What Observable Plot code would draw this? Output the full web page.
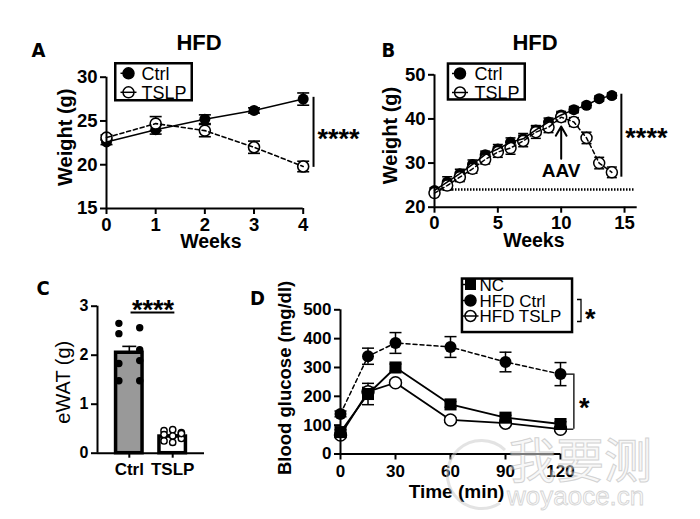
<!DOCTYPE html>
<html><head><meta charset="utf-8">
<script src="https://cdn.jsdelivr.net/npm/d3@7"></script>
<script src="https://cdn.jsdelivr.net/npm/@observablehq/plot@0.6"></script>
<style>
body{margin:0;background:#fff;}
#fig{position:relative;width:700px;height:519px;overflow:hidden;background:#fff;}
</style></head><body><div id="fig"></div>
<script>
// ---------- DATA ----------
// Panel A (HFD, weeks 0-4)
const weeksA = [0, 1, 2, 3, 4];
const ctrlA = [22.6, 24.0, 25.2, 26.2, 27.5];
const ctrlAerr = [0.3, 0.5, 0.5, 0.3, 0.7];
const tslpA = [23.1, 24.7, 23.9, 22.0, 19.8];
const tslpAerr = [0.3, 0.8, 0.7, 0.7, 0.6];
const yTicksA = [15, 20, 25, 30];

// Panel B (HFD, weeks 0-14)
const weeksB = [0, 1, 2, 3, 4, 5, 6, 7, 8, 9, 10, 11, 12, 13, 14];
const ctrlB = [23.8, 25.7, 27.6, 29.7, 31.9, 33.2, 34.7, 35.5, 37.5, 39.3, 40.9, 42.1, 43.1, 44.6, 45.3];
const ctrlBerr = [0.6, 1.2, 1.0, 1.0, 0.8, 1.0, 1.0, 1.2, 1.0, 0.9, 0.8, 0.7, 0.6, 0.6, 0.6];
const tslpB = [23.2, 24.9, 26.8, 28.7, 30.8, 32.5, 33.4, 35.0, 37.0, 38.1, 40.4, 39.3, 35.7, 30.0, 27.9];
const tslpBerr = [0.5, 1.0, 1.0, 1.0, 1.0, 1.2, 1.4, 1.3, 1.4, 1.2, 1.0, 1.0, 1.3, 1.3, 1.2];
const xTicksB = [0, 5, 10, 15];
const yTicksB = [20, 30, 40, 50];
const baselineB = [24];
const aavB = [{week: 10, from: 31, to: 38.3, label: "AAV", textAt: 28.3}];

// Panel C (eWAT)
const groupsC = ["Ctrl", "TSLP"];
const meanC = [2.05, 0.34];
const semC = [0.13, 0.03];
const ptsCtrlC = [2.65, 2.56, 2.44, 2.11, 1.83, 1.89, 1.48, 1.48];
const ptsTslpC = [0.46, 0.48, 0.42, 0.38, 0.35, 0.30, 0.25, 0.22, 0.40];
const yTicksC = [0, 1, 2, 3];

// Panel D (GTT)
const timeD = [0, 15, 30, 60, 90, 120];
const ncD = [76, 208, 300, 172, 126, 104];
const ncDerr = [8, 37, 12, 10, 8, 8];
const hfdCtrlD = [139, 339, 385, 371, 319, 277];
const hfdCtrlDerr = [10, 28, 36, 36, 34, 40];
const hfdTslpD = [66, 216, 247, 118, 107, 86];
const hfdTslpDerr = [6, 15, 10, 8, 6, 6];
const xTicksD = [0, 30, 60, 90, 120];
const yTicksD = [0, 100, 200, 300, 400, 500];

// ---------- HELPERS ----------
const FONT = '"Liberation Sans", Arial, Helvetica, sans-serif';
const NARROW = '"Liberation Sans Narrow", "DejaVu Sans Condensed", "Liberation Sans", sans-serif';
const fig = document.getElementById("fig");
function place(svg, left, top) {
  svg.style.position = "absolute";
  svg.style.left = left + "px";
  svg.style.top = top + "px";
  fig.appendChild(svg);
}
const cap = {draw(ctx, size) { const r = Math.sqrt(size / Math.PI); ctx.moveTo(-r, 0); ctx.lineTo(r, 0); }};
function rows(xs, ys, es) { return xs.map((x, i) => ({x, y: ys[i], e: es[i]})); }
function errMarks(data, capR, sw) {
  return [
    Plot.ruleX(data, {x: "x", y1: d => d.y - d.e, y2: d => d.y + d.e, stroke: "black", strokeWidth: sw}),
    Plot.dot(data, {x: "x", y: d => d.y + d.e, symbol: cap, r: capR, stroke: "black", fill: "none", strokeWidth: sw}),
    Plot.dot(data, {x: "x", y: d => d.y - d.e, symbol: cap, r: capR, stroke: "black", fill: "none", strokeWidth: sw})
  ];
}
const baseStyle = (fs) => ({fontFamily: FONT, fontSize: fs + "px", fontWeight: "bold", background: "transparent", overflow: "visible", color: "black"});
const xLabel = (t, dx, dy, fs) => Plot.text([t], {text: d => d, frameAnchor: "bottom", textAnchor: "middle", lineAnchor: "middle", dx, dy, fontSize: fs});
const yLabel = (t, dx, dy, fs, fw = "bold") => Plot.text([t], {text: d => d, frameAnchor: "left", rotate: -90, textAnchor: "middle", lineAnchor: "middle", dx, dy, fontSize: fs, fontWeight: fw});

// ---------- PANEL A ----------
const rAc = rows(weeksA, ctrlA, ctrlAerr), rAt = rows(weeksA, tslpA, tslpAerr);
const lastA = weeksA.length - 1;
const sigA = [{x: weeksA[lastA] + 0.21, y1: tslpA[lastA] - 0.1, y2: ctrlA[lastA] + 0.2, label: "****"}];
const plotA = Plot.plot({
  width: 350, height: 260, marginLeft: 106, marginRight: 47.3, marginTop: 76.7, marginBottom: 52,
  x: {domain: [weeksA[0], weeksA[lastA]]}, y: {domain: [yTicksA[0], yTicksA[yTicksA.length - 1]]},
  style: baseStyle(18.5),
  marks: [
    ...errMarks(rAc, 6, 1.6), ...errMarks(rAt, 6, 1.6),
    Plot.dot(rAc, {x: "x", y: "y", r: 5.5, fill: "black"}),
    Plot.dot(rAt, {x: "x", y: "y", r: 5.5, fill: "white", stroke: "black", strokeWidth: 1.6}),
    Plot.line(rAc, {x: "x", y: "y", strokeWidth: 1.6}),
    Plot.line(rAt, {x: "x", y: "y", strokeWidth: 1.6, strokeDasharray: "4,3"}),
    Plot.ruleX([weeksA[0]], {strokeWidth: 2}), Plot.ruleY([yTicksA[0]], {strokeWidth: 2}),
    Plot.axisX({ticks: weeksA, tickSize: 6, tickPadding: 3, strokeWidth: 2, label: null, tickFormat: d => String(d)}),
    Plot.axisY({ticks: yTicksA, tickSize: 6, tickPadding: 3, strokeWidth: 2, label: null, tickFormat: d => String(d)}),
    Plot.ruleX(sigA, {x: "x", y1: "y1", y2: "y2", strokeWidth: 2}),
    Plot.text(sigA, {x: "x", y: d => (d.y1 + d.y2) / 2, text: "label", textAnchor: "start", dx: 4, dy: 7, fontSize: 27}),
    xLabel("Weeks", 6, 33, 19.5),
    yLabel("Weight (g)", -41, -5.6, 20)
  ]
});
place(plotA, 0, 0);

// ---------- PANEL B ----------
const rBc = rows(weeksB, ctrlB, ctrlBerr), rBt = rows(weeksB, tslpB, tslpBerr);
const lastB = weeksB.length - 1;
const sigB = [{x: weeksB[lastB] + 0.75, y1: tslpB[lastB] - tslpBerr[lastB] + 0.1, y2: ctrlB[lastB] + 0.3, label: "****"}];
const plotB = Plot.plot({
  width: 350, height: 260, marginLeft: 84, marginRight: 63.3, marginTop: 74.3, marginBottom: 53.3,
  x: {domain: [0, 16]}, y: {domain: [yTicksB[0], yTicksB[yTicksB.length - 1]]},
  style: baseStyle(18.5),
  marks: [
    Plot.ruleY(baselineB, {x1: 0, x2: 15.8, strokeWidth: 2.5, strokeDasharray: "1.5,1.5"}),
    ...errMarks(rBc, 5, 1.5), ...errMarks(rBt, 5, 1.5),
    Plot.dot(rBc, {x: "x", y: "y", r: 5.5, fill: "black"}),
    Plot.dot(rBt, {x: "x", y: "y", r: 5.5, fill: "white", stroke: "black", strokeWidth: 1.5}),
    Plot.line(rBc, {x: "x", y: "y", strokeWidth: 1.5}),
    Plot.line(rBt, {x: "x", y: "y", strokeWidth: 1.5, strokeDasharray: "4,3"}),
    Plot.ruleX([0], {strokeWidth: 2}), Plot.ruleY([yTicksB[0]], {strokeWidth: 2}),
    Plot.axisX({ticks: xTicksB, tickSize: 6, tickPadding: 3, strokeWidth: 2, label: null, tickFormat: d => String(d)}),
    Plot.axisY({ticks: yTicksB, tickSize: 6, tickPadding: 3, strokeWidth: 2, label: null, tickFormat: d => String(d)}),
    Plot.arrow(aavB, {x1: "week", x2: "week", y1: "from", y2: "to", strokeWidth: 2, headLength: 9}),
    Plot.text(aavB, {x: "week", y: "textAt", text: "label", fontSize: 19}),
    Plot.ruleX(sigB, {x: "x", y1: "y1", y2: "y2", strokeWidth: 2}),
    Plot.text(sigB, {x: "x", y: d => (d.y1 + d.y2) / 2, text: "label", textAnchor: "start", dx: 4, dy: 3, fontSize: 27}),
    xLabel("Weeks", -2, 34, 19.5),
    yLabel("Weight (g)", -44, -5.5, 20)
  ]
});
place(plotB, 350, 0);

// ---------- PANEL C ----------
const barsC = groupsC.map((g, i) => ({g, pos: i + 1, mean: meanC[i], sem: semC[i]}));
const ptsC = [
  ...ptsCtrlC.map((v, i) => ({pos: 1, off: (i % 2 ? 0.24 : -0.24), v, open: false})),
  ...ptsTslpC.map((v, i) => ({pos: 2, off: ((i % 3) - 1) * 0.2, v, open: true}))
];
const sigC = [{x1: 1.04, x2: 2.05, y: 2.87, label: "****"}];
const plotC = Plot.plot({
  width: 230, height: 259, marginLeft: 97, marginRight: 26, marginTop: 45.7, marginBottom: 66.3,
  x: {domain: [0.267, 2.733]}, y: {domain: [yTicksC[0], yTicksC[yTicksC.length - 1]]},
  style: baseStyle(16),
  marks: [
    Plot.ruleX(barsC, {x: "pos", y1: "mean", y2: d => d.mean + d.sem, strokeWidth: 1.6}),
    Plot.dot(barsC, {x: "pos", y: d => d.mean + d.sem, symbol: cap, r: 7, stroke: "black", fill: "none", strokeWidth: 1.6}),
    Plot.rectY(barsC, {x1: d => d.pos - 0.305, x2: d => d.pos + 0.305, y1: 0, y2: "mean", fill: (d, i) => i === 0 ? "#999999" : "white", stroke: "black", strokeWidth: 3.5}),
    Plot.dot(ptsC, {x: d => d.pos + d.off, y: "v", r: d => d.open ? 4.2 : 3.8, fill: d => d.open ? "white" : "black", stroke: "black", strokeWidth: 1.4}),
    Plot.ruleX([0.267], {strokeWidth: 2}), Plot.ruleY([0], {strokeWidth: 2}),
    Plot.axisX({ticks: barsC.map(d => d.pos), tickFormat: d => groupsC[d - 1], tickSize: 5, tickPadding: 5, strokeWidth: 2, label: null, fontSize: 17}),
    Plot.axisY({ticks: yTicksC, tickSize: 6, tickPadding: 3, strokeWidth: 2, label: null, tickFormat: d => String(d)}),
    Plot.ruleY(sigC, {x1: "x1", x2: "x2", y: "y", strokeWidth: 2}),
    Plot.text(sigC, {x: d => (d.x1 + d.x2) / 2, y: "y", text: "label", dy: -2, fontSize: 27}),
    yLabel("eWAT (g)", -34, 2.5, 20, "normal")
  ]
});
place(plotC, 0, 260);

// ---------- PANEL D ----------
const rNC = rows(timeD, ncD, ncDerr), rHC = rows(timeD, hfdCtrlD, hfdCtrlDerr), rHT = rows(timeD, hfdTslpD, hfdTslpDerr);
const lastD = timeD.length - 1;
const brD = [{x: 127.3, xt: 122.7, y1: hfdTslpD[lastD], y2: hfdCtrlD[lastD], label: "*"}];
const plotD = Plot.plot({
  width: 470, height: 259, marginLeft: 110, marginRight: 140, marginTop: 49.3, marginBottom: 65.5,
  x: {domain: [xTicksD[0], xTicksD[xTicksD.length - 1]]}, y: {domain: [yTicksD[0], yTicksD[yTicksD.length - 1]]},
  style: baseStyle(17),
  marks: [
    ...errMarks(rHT, 6, 1.5), ...errMarks(rNC, 6, 1.5), ...errMarks(rHC, 6, 1.5),
    Plot.line(rHT, {x: "x", y: "y", strokeWidth: 1.8}),
    Plot.line(rNC, {x: "x", y: "y", strokeWidth: 1.8}),
    Plot.line(rHC, {x: "x", y: "y", strokeWidth: 1.5, strokeDasharray: "4,3"}),
    Plot.dot(rHT, {x: "x", y: "y", r: 6, fill: "white", stroke: "black", strokeWidth: 1.5}),
    Plot.dot(rNC, {x: "x", y: "y", r: 6.8, symbol: "square", fill: "black"}),
    Plot.dot(rHC, {x: "x", y: "y", r: 6, fill: "black"}),
    Plot.ruleX([0], {strokeWidth: 2}), Plot.ruleY([0], {strokeWidth: 2}),
    Plot.axisX({ticks: xTicksD, tickSize: 6, tickPadding: 5, strokeWidth: 2, label: null, tickFormat: d => String(d)}),
    Plot.axisY({ticks: yTicksD, tickSize: 6, tickPadding: 3, strokeWidth: 2, label: null, tickFormat: d => String(d)}),
    Plot.ruleX(brD, {x: "x", y1: "y1", y2: "y2", strokeWidth: 1.3}),
    Plot.ruleY(brD, {x1: "xt", x2: "x", y: "y1", strokeWidth: 1.3}),
    Plot.ruleY(brD, {x1: "xt", x2: "x", y: "y2", strokeWidth: 1.3}),
    Plot.text(brD, {x: "x", y: d => (d.y1 + d.y2) / 2, text: "label", textAnchor: "start", dx: 5, dy: 7, fontSize: 27}),
    xLabel("Time (min)", 6, 38, 19),
    yLabel("Blood glucose (mg/dl)", -55, -4, 18.5)
  ]
});
place(plotD, 230, 260);

// ---------- OVERLAY: panel letters, titles, legends, watermark ----------
const ov = d3.create("svg").attr("width", 700).attr("height", 519)
  .style("position", "absolute").style("left", "0px").style("top", "0px").style("pointer-events", "none");
const panelLetters = [["A", 31.5, 56.7], ["B", 381.5, 56.7], ["C", 36.5, 295], ["D", 250, 305]];
panelLetters.forEach(([t, x, y]) => ov.append("text").attr("x", x).attr("y", y).text(t)
  .attr("font-family", NARROW).attr("font-weight", "bold").attr("font-size", 20));
const titles = [["HFD", 199, 50.4], ["HFD", 535, 50.4]];
titles.forEach(([t, x, y]) => ov.append("text").attr("x", x).attr("y", y).text(t).attr("text-anchor", "middle")
  .attr("font-family", FONT).attr("font-weight", "bold").attr("font-size", 22));

function legend(cfg) {
  const g = ov.append("g");
  g.append("rect").attr("x", cfg.x0 + 1.25).attr("y", cfg.y0 + 1.25).attr("width", cfg.x1 - cfg.x0 - 2.5).attr("height", cfg.y1 - cfg.y0 - 2.5)
    .attr("fill", "white").attr("stroke", "black").attr("stroke-width", 2.5);
  cfg.items.forEach((it, i) => {
    const cy = cfg.rows[i], sx = cfg.sx;
    g.append("line").attr("x1", sx - 8).attr("x2", it.type === "open" ? sx + 8 : sx).attr("y1", cy).attr("y2", cy)
      .attr("stroke", "black").attr("stroke-width", 1.5);
    if (it.type === "square") g.append("rect").attr("x", sx - 5.5).attr("y", cy - 5.5).attr("width", 11).attr("height", 11).attr("fill", "black");
    else g.append("circle").attr("cx", sx).attr("cy", cy).attr("r", 5.5).attr("fill", it.type === "open" ? "none" : "black")
      .attr("stroke", "black").attr("stroke-width", 1.5);
    g.append("text").attr("x", cfg.tx).attr("y", cy).attr("dy", "0.36em").text(it.label)
      .attr("font-family", FONT).attr("font-size", cfg.fs);
  });
}
legend({x0: 114, y0: 62, x1: 193, y1: 101.5, sx: 128.5, tx: 141.5, rows: [73.3, 92.3], fs: 18,
  items: [{label: "Ctrl", type: "filled"}, {label: "TSLP", type: "open"}]});
legend({x0: 446.7, y0: 62.3, x1: 526, y1: 100.7, sx: 460, tx: 474.5, rows: [73.5, 92.5], fs: 18,
  items: [{label: "Ctrl", type: "filled"}, {label: "TSLP", type: "open"}]});
legend({x0: 460.7, y0: 277.3, x1: 573.3, y1: 333.3, sx: 470.5, tx: 479.5, rows: [284.5, 300.5, 316], fs: 17,
  items: [{label: "NC", type: "square"}, {label: "HFD Ctrl", type: "filled"}, {label: "HFD TSLP", type: "open"}]});
// legend bracket + star
ov.append("path").attr("d", "M577,299.5 H581 V321.5 H577").attr("fill", "none").attr("stroke", "black").attr("stroke-width", 1.3);
ov.append("text").attr("x", 585).attr("y", 313).attr("dy", "0.56em").text("*")
  .attr("font-family", FONT).attr("font-weight", "bold").attr("font-size", 27);

// watermark
const wm = ov.append("g").attr("opacity", 0.5);
wm.append("path").attr("d", "M505,450 A34,34 0 1 0 500,503").attr("fill", "none").attr("stroke", "#c8c8c8").attr("stroke-width", 3);
wm.append("text").attr("x", 508).attr("y", 478).text("我要测").attr("font-family", '"Noto Sans CJK SC", sans-serif')
  .attr("font-size", 48).attr("fill", "#f2f2f2").attr("stroke", "#a8a8a8").attr("stroke-width", 1);
wm.append("text").attr("x", 507).attr("y", 505).text("woyaoce.cn").attr("font-family", FONT)
  .attr("font-size", 26).attr("fill", "#f4f4f4").attr("stroke", "#a8a8a8").attr("stroke-width", 0.8);

fig.appendChild(ov.node());
</script></body></html>
